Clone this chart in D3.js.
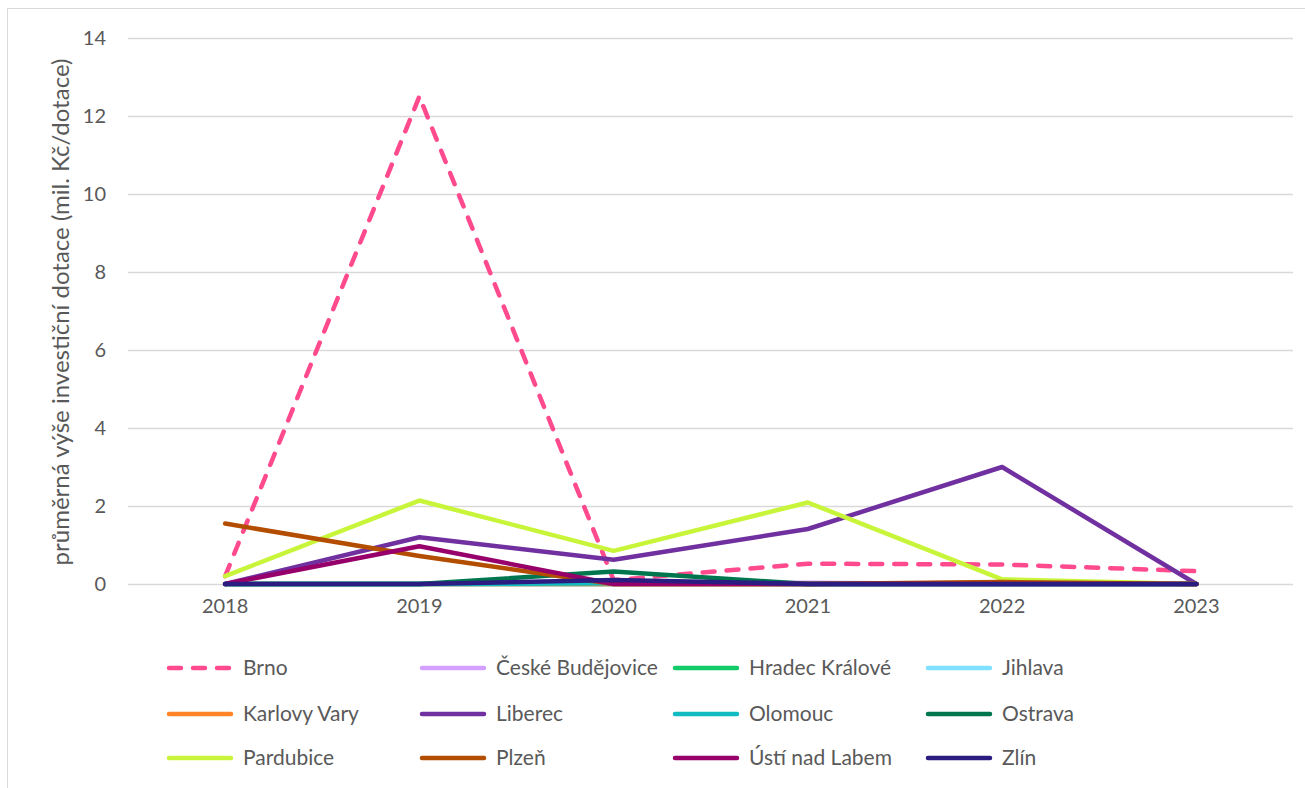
<!DOCTYPE html>
<html><head><meta charset="utf-8">
<script src="https://cdn.jsdelivr.net/npm/d3@7"></script>
<style>body{margin:0;background:#fff;} svg{display:block;font-family:Lato,"Open Sans",sans-serif;}</style>
</head><body>
<svg id="c" width="1305" height="788"></svg>
<script>
const years = ["2018","2019","2020","2021","2022","2023"];
const yTicks = [0,2,4,6,8,10,12,14];
const seriesNames = ["Brno","České Budějovice","Hradec Králové","Jihlava","Karlovy Vary","Liberec","Olomouc","Ostrava","Pardubice","Plzeň","Ústí nad Labem","Zlín"];
const seriesColors = ["#FF4A8E","#D4A0FF","#12CC6A","#80E0FF","#FF8426","#7030A0","#10BCC2","#00764F","#C8F53A","#B34D00","#97006A","#2A1C80"];
const brno = [0.2,12.5,0.1,0.52,0.5,0.33];
const ceskeBudejovice = [0,0,0,0.03,0,0];
const hradecKralove = [0,0,0,0,0,0];
const jihlava = [0,0,0,0,0,0];
const karlovyVary = [0,0,0,0,0.03,0];
const liberec = [0,1.2,0.62,1.41,3.0,0];
const olomouc = [0,0,0.02,0,0,0];
const ostrava = [0,0,0.32,0,0,0];
const pardubice = [0.2,2.14,0.85,2.09,0.12,0];
const plzen = [1.55,0.72,0,0,0.05,0];
const ustiNadLabem = [0,0.97,0,0,0,0];
const zlin = [0,0,0.1,0,0,0];
const seriesValues = [brno,ceskeBudejovice,hradecKralove,jihlava,karlovyVary,liberec,olomouc,ostrava,pardubice,plzen,ustiNadLabem,zlin];

const svg = d3.select("#c");
const font = "Lato,'Open Sans',sans-serif";
// outer border
svg.append("rect").attr("x",7.5).attr("y",8.5).attr("width",1310).attr("height",800)
  .attr("fill","none").attr("stroke","#d9d9d9").attr("stroke-width",1);

const x = d3.scaleBand().domain(years).range([128,1293.5]);
const y = d3.scaleLinear().domain([0,14]).range([584,38]);

// gridlines
svg.append("g").selectAll("line").data(yTicks).join("line")
  .attr("x1",128).attr("x2",1293).attr("y1",d=>y(d)+0.5).attr("y2",d=>y(d)+0.5)
  .attr("stroke","#d9d9d9").attr("stroke-width",1.3);

// y axis
const yAxis = svg.append("g").attr("transform","translate(128,0)")
  .call(d3.axisLeft(y).tickValues(yTicks).tickSize(0).tickPadding(22));
yAxis.select(".domain").remove();
yAxis.selectAll("text").attr("font-size",20).attr("fill","#595959").attr("font-family",font);

// x axis
const xAxis = svg.append("g").attr("transform","translate(0,584)")
  .call(d3.axisBottom(x).tickSize(0).tickPadding(15));
xAxis.select(".domain").remove();
xAxis.selectAll("text").attr("font-size",20).attr("fill","#595959").attr("font-family",font);

// y title
svg.append("text").attr("transform","translate(69,312) rotate(-90)")
  .attr("text-anchor","middle").attr("font-size",24).attr("fill","#595959")
  .text("průměrná výše investiční dotace (mil. Kč/dotace)");

const line = d3.line().x((d,i)=>x(years[i])+x.bandwidth()/2).y(d=>y(d));
svg.append("g").selectAll("path").data(seriesValues).join("path")
  .attr("d",d=>line(d)).attr("fill","none")
  .attr("stroke",(d,i)=>seriesColors[i]).attr("stroke-width",4.5)
  .attr("stroke-linejoin","round").attr("stroke-linecap","round")
  .attr("stroke-dasharray",(d,i)=>i===0?"12 12":null);

// legend
const colX = [167,420,673,926];
const rowY = [668,714,758];
const lg = svg.append("g").selectAll("g").data(seriesNames).join("g")
  .attr("transform",(d,i)=>`translate(${colX[i%4]},${rowY[Math.floor(i/4)]})`);
lg.append("line").attr("x1",2).attr("x2",64).attr("y1",0).attr("y2",0)
  .attr("stroke",(d,i)=>seriesColors[i]).attr("stroke-width",4.5).attr("stroke-linecap","round")
  .attr("stroke-dasharray",(d,i)=>i===0?"12 12":null);
lg.append("text").attr("x",76).attr("y",7).attr("font-size",21).attr("fill","#595959").text(d=>d);
</script>
</body></html>
